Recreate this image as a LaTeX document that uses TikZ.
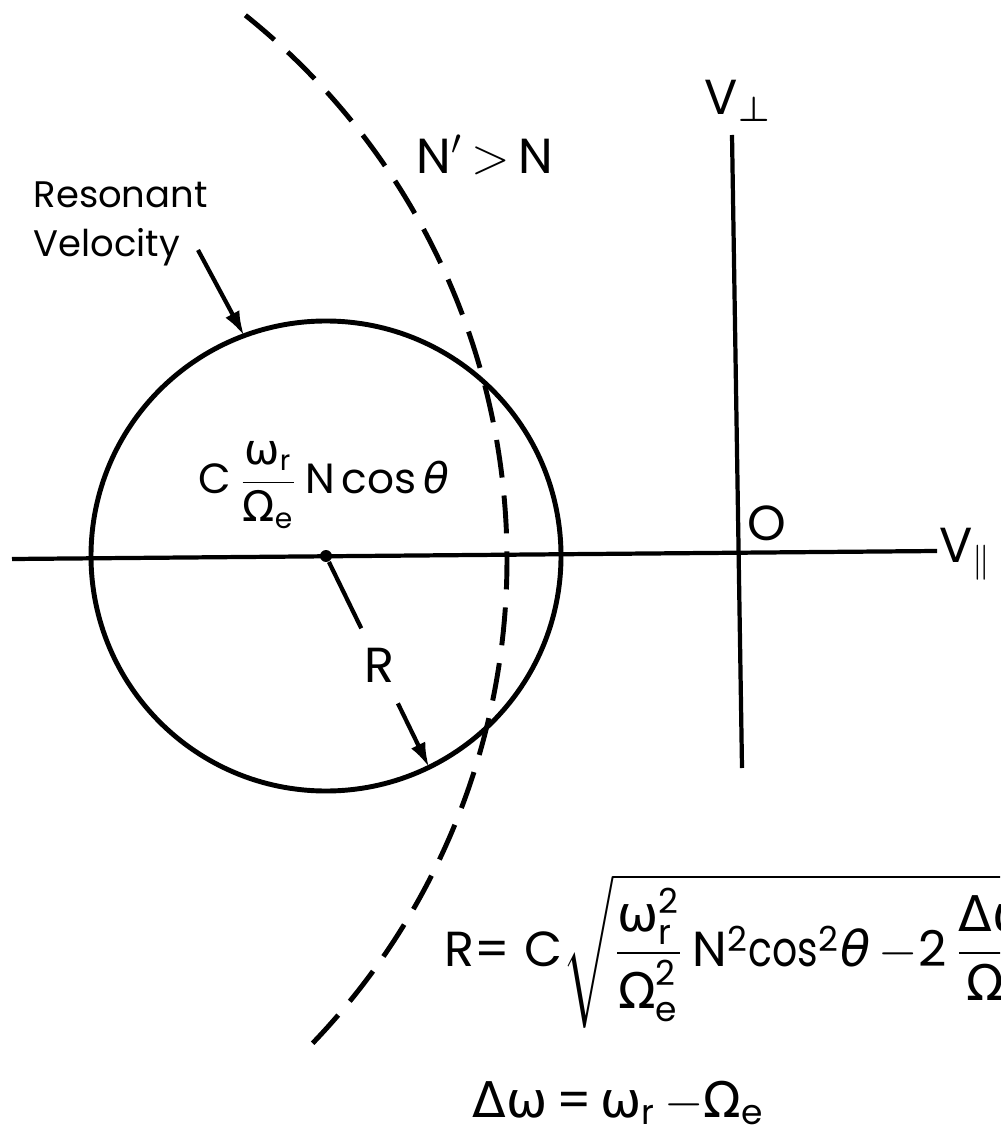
\documentclass[tikz,border=0pt]{standalone}
\usepackage{amsmath}
\usepackage{fontspec}
\setmainfont{Poppins}
\newfontfamily\grk{DejaVu Sans}
\newfontfamily\slimfont[FakeStretch=0.8]{Poppins}
\usetikzlibrary{arrows.meta, calc}

\newcommand{\gomega}{\text{\grk ω}}
\newcommand{\gOmega}{\text{\grk Ω}}
\newcommand{\gDelta}{\text{\grk Δ}}
\newcommand{\gtheta}{\text{\grk\itshape θ}}

\begin{document}
\begin{tikzpicture}[
    x=0.01cm, y=-0.01cm, % work in pixels, y pointing down
    >={Latex[length=7pt,width=4.5pt]}, % default arrow tip
    axis/.style={line width=1.2pt}, % axes and pointers
    curve/.style={line width=1.4pt}, % resonance circle
    wave/.style={line width=1.4pt, dash pattern=on 0.38cm off 0.18cm}, % dashed arc
    lbl/.style={font=\fontsize{14}{16}\selectfont, inner sep=0pt}, % axis labels
    note/.style={font=\fontsize{10.5}{14}\selectfont, align=left, inner sep=0pt},
    eqn/.style={font=\fontsize{12}{14}\selectfont, inner sep=0pt},
    bigeqn/.style={font=\fontsize{14}{16}\selectfont, inner sep=0pt},
    dot/.style={fill, circle, inner sep=1.2pt}
]
    \useasboundingbox (0,0) rectangle (1000,1131);
    \clip (0,0) rectangle (1000,1131);

    % Axes
    \coordinate (xl) at (12,559);
    \coordinate (xr) at (937,551);
    \coordinate (yt) at (732,135);
    \coordinate (yb) at (742,768);
    \draw[axis] (xl) -- (xr);
    \draw[axis] (yt) -- (yb);
    \node[lbl] (vpar) at (966,554) {$\mathrm{V}_{\parallel}$};
    \node[lbl] (vperp) at (738,101) {$\mathrm{V}_{\boldsymbol{\perp}}$};
    \node[lbl] (orig) at (767,523) {O};

    % Resonance circle and its centre
    \coordinate (ctr) at (326,556);
    \def\radius{235}
    \draw[curve] (ctr) circle (\radius);
    \node[dot] (cdot) at (ctr) {};

    % Radius R
    \coordinate (Rtip) at ($(ctr)+(64:\radius)$);
    \node[lbl, circle, minimum size=0.82cm] (Rlab) at ($(ctr)!0.52!(Rtip)$) {R};
    \draw[axis] (cdot) -- (Rlab);
    \draw[axis, ->] (Rlab) -- (Rtip);

    % Dashed arc for N' > N
    \coordinate (wc) at (-191,560);
    \def\wrad{698}
    \draw[wave] ($(wc)+(-51.3:\wrad)$) arc (-51.3:44.9:\wrad);
    \node[lbl] (nlab) at (485,155) {$\mathrm{N}'\,{>}\,\mathrm{N}$};

    % Resonant velocity pointer
    \node[note, anchor=north west] (rv) at (33,181) {Resonant\\Velocity};
    \coordinate (rvtail) at (198,250);
    \coordinate (rvtip) at ($(ctr)+(-110.4:\radius)$);
    \draw[axis, ->] (rvtail) -- (rvtip);

    % Centre position
    \node[eqn, anchor=base west] (cpos) at (198,493)
        {$\mathrm{C}\,\dfrac{\gomega_{\mathrm{r}}}{\gOmega_{\mathrm{e}}}\,\mathrm{N}\,\mathrm{cos}\,\gtheta$};

    % Formulas
    \node[bigeqn, anchor=base west] (req) at (444,966)
        {$\mathrm{R}\text{=}\;\mathrm{C}\sqrt{\dfrac{\gomega_{\mathrm{r}}^{\mathrm{2}}}{\gOmega_{\mathrm{e}}^{\mathrm{2}}}\,\mathrm{N}^{\mathrm{2}}\text{\slimfont cos}^{\mathrm{2}}\gtheta\,{-}\mathrm{2}\,\dfrac{\gDelta\gomega}{\gOmega_{\mathrm{e}}}}$};
    \node[bigeqn, anchor=base west] (dw) at (472,1117)
        {$\gDelta\gomega\,\text{=}\,\gomega_{\mathrm{r}}\,{-}\gOmega_{\mathrm{e}}$};

\end{tikzpicture}
\end{document}
